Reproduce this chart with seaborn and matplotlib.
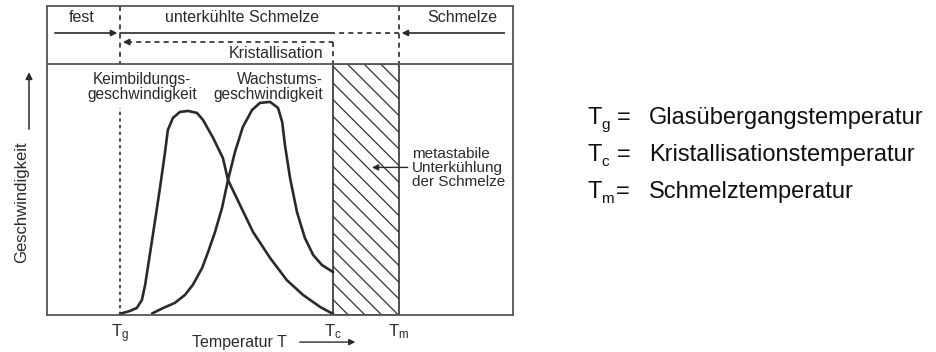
import numpy as np
import pandas as pd
import matplotlib
matplotlib.use("Agg")
import matplotlib.pyplot as plt
import seaborn as sns

# temperature scale (arbitrary units) and the three marked temperatures
t_glass = 15.8
t_cryst = 61.8
t_melt = 76.0

# Keimbildungsgeschwindigkeit (nucleation rate)
keim_T = [15.8, 17.9, 19.4, 20.5, 21.2, 22.2, 23.3, 24.4, 25.5, 26.1, 27.2, 28.7, 30.5,
          32.4, 33.7, 35.9, 38.0, 39.1, 41.7, 44.5, 48.2, 51.8, 55.3, 59.0, 61.8]
keim_v = [0.5, 1.6, 2.8, 6.0, 12.0, 23.9, 37.1, 50.6, 64.9, 73.7, 78.5, 80.9, 81.3,
          80.5, 77.7, 70.5, 62.5, 53.8, 43.8, 33.1, 22.7, 13.9, 8.0, 3.2, 0.4]

# Wachstumsgeschwindigkeit (growth rate)
wachs_T = [22.7, 25.1, 27.6, 29.8, 31.5, 33.5, 34.8, 36.3, 37.8, 39.1, 40.6, 42.3,
           44.3, 46.0, 48.2, 49.9, 50.8, 51.4, 52.5, 54.0, 55.7, 57.5, 59.4, 61.8]
wachs_v = [0.6, 2.8, 4.8, 8.0, 12.0, 18.7, 25.1, 33.1, 42.6, 53.8, 64.9, 74.9,
           81.7, 84.5, 84.9, 82.5, 76.9, 67.7, 54.6, 41.0, 30.7, 23.9, 19.9, 17.1]

tick_labels = [r"$\mathrm{T_g}$", r"$\mathrm{T_c}$", r"$\mathrm{T_m}$"]
legend_subs = ["g", "c", "m"]
legend_names = ["Glasübergangstemperatur", "Kristallisationstemperatur", "Schmelztemperatur"]

sns.set_style("white")
plt.rcParams["font.family"] = ["Liberation Sans", "DejaVu Sans"]
plt.rcParams["mathtext.fontset"] = "custom"
plt.rcParams["mathtext.rm"] = "Liberation Sans"
plt.rcParams["mathtext.it"] = "Liberation Sans:italic"
plt.rcParams["hatch.linewidth"] = 0.9
plt.rcParams["hatch.color"] = "#333333"

ink = "#2a2a2a"
frame = "#555555"
fs = 11.5

fig = plt.figure(figsize=(9.36, 3.52), dpi=100)
ax = fig.add_axes([47 / 936, 37 / 352, 466 / 936, 251 / 352])
ax_h = fig.add_axes([47 / 936, 288 / 352, 466 / 936, 58 / 352])
xmax = 100.66

# curves
curves = pd.concat([
    pd.DataFrame({"T": keim_T, "v": keim_v, "kurve": "Keimbildung"}),
    pd.DataFrame({"T": wachs_T, "v": wachs_v, "kurve": "Wachstum"}),
])
sns.lineplot(data=curves, x="T", y="v", units="kurve", estimator=None, sort=False,
             color=ink, lw=1.9, ax=ax, legend=False)

# hatched metastable zone
ax.axvspan(t_cryst, t_melt, facecolor="none", hatch="\\\\", edgecolor="#333333", lw=1.2)
# Tg line
ax.plot([t_glass, t_glass], [0, 82.5], color=ink, lw=1.2, ls=(0, (2, 2)))

ax.set_xlim(0, xmax)
ax.set_ylim(0, 100)
ax.set_yticks([])
ax.set_xticks([t_glass, t_cryst, t_melt], labels=tick_labels)
ax.tick_params(axis="x", length=0, pad=5, labelsize=12, labelcolor=ink)
ax.set_xlabel("")
ax.set_ylabel("")
for sp in ax.spines.values():
    sp.set_color(frame)
    sp.set_linewidth(1.3)
ax.spines["top"].set_visible(False)

ax.text(20.5, 91.0, "Keimbildungs-\ngeschwindigkeit", ha="center", va="center",
        fontsize=11.2, color=ink, linespacing=1.0)
ax.text(59.6, 91.0, "Wachstums-\ngeschwindigkeit", ha="right", va="center",
        fontsize=11.2, color=ink, linespacing=1.0)
ax.text(78.8, 58.6, "metastabile\nUnterkühlung\nder Schmelze", ha="left", va="center",
        fontsize=11, color=ink, linespacing=1.0)
ax.annotate("", xy=(69.6, 58.8), xytext=(78.5, 58.8),
            arrowprops=dict(arrowstyle="-|>", color=ink, lw=1.0, mutation_scale=9))

ax.text(41.5, -0.108, "Temperatur T", transform=ax.get_xaxis_transform(),
        ha="center", va="center", fontsize=fs, color=ink)
ax.annotate("", xy=(67.2, -0.108), xytext=(54.0, -0.108),
            xycoords=ax.get_xaxis_transform(), textcoords=ax.get_xaxis_transform(),
            arrowprops=dict(arrowstyle="-|>", color=ink, lw=1.0, mutation_scale=9),
            annotation_clip=False)

# y axis label with arrow
fig.text(22 / 936, 0.426, "Geschwindigkeit", rotation=90, ha="center", va="center",
         fontsize=12, color=ink)
fig.add_artist(matplotlib.patches.FancyArrowPatch(
    (29 / 936, 0.625), (29 / 936, 0.803), transform=fig.transFigure,
    arrowstyle="-|>", mutation_scale=10, color=ink, lw=1.1))

# header band (y in pixel rows, 6 at top, 64 at bottom)
ax_h.set_xlim(0, xmax)
ax_h.set_ylim(64, 6)
ax_h.set_xticks([])
ax_h.set_yticks([])
for sp in ax_h.spines.values():
    sp.set_color(frame)
    sp.set_linewidth(1.3)

dash = (0, (3, 2.5))
ax_h.plot([t_glass, t_glass], [6, 64], color=ink, lw=1.2, ls=dash)
ax_h.plot([t_melt, t_melt], [6, 64], color=ink, lw=1.2, ls=dash)

ax_h.text(7.6, 18, "fest", ha="center", va="center", fontsize=fs, color=ink)
ax_h.text(42.1, 18, "unterkühlte Schmelze", ha="center", va="center", fontsize=fs, color=ink)
ax_h.text(97.2, 18, "Schmelze", ha="right", va="center", fontsize=fs, color=ink)

arrow_kw = dict(arrowstyle="-|>", color=ink, lw=1.2, mutation_scale=9)
ax_h.annotate("", xy=(t_glass, 33), xytext=(1.1, 33), arrowprops=arrow_kw)
ax_h.plot([t_glass, 61.1], [33, 33], color=ink, lw=1.2)
ax_h.plot([61.1, t_melt], [33, 33], color=ink, lw=1.2, ls=dash)
ax_h.annotate("", xy=(t_melt, 33), xytext=(99.4, 33), arrowprops=arrow_kw)

ax_h.plot([t_glass + 1.5, t_cryst], [42, 42], color=ink, lw=1.2, ls=dash)
ax_h.plot([t_cryst, t_cryst], [42, 64], color=ink, lw=1.2, ls=dash)
ax_h.annotate("", xy=(t_glass, 42), xytext=(t_glass + 2.5, 42), arrowprops=arrow_kw)
ax_h.text(59.6, 53, "Kristallisation", ha="right", va="center", fontsize=fs, color=ink)

# symbol legend on the right
rows_y = [118, 155, 192]
for sub, name, py in zip(legend_subs, legend_names, rows_y):
    yf = (352 - py) / 352
    fig.text(588 / 936, yf, "T", ha="left", va="center", fontsize=17, color="#111111")
    fig.text(601 / 936, yf - 7 / 352, sub, ha="left", va="center", fontsize=11,
             color="#111111")
    eq_x = 616 if sub == "m" else 617
    fig.text(eq_x / 936, yf, "=", ha="left", va="center", fontsize=17, color="#111111")
    fig.text(649 / 936, yf, name, ha="left", va="center", fontsize=17, color="#111111")

fig.savefig("out.png", dpi=100)
